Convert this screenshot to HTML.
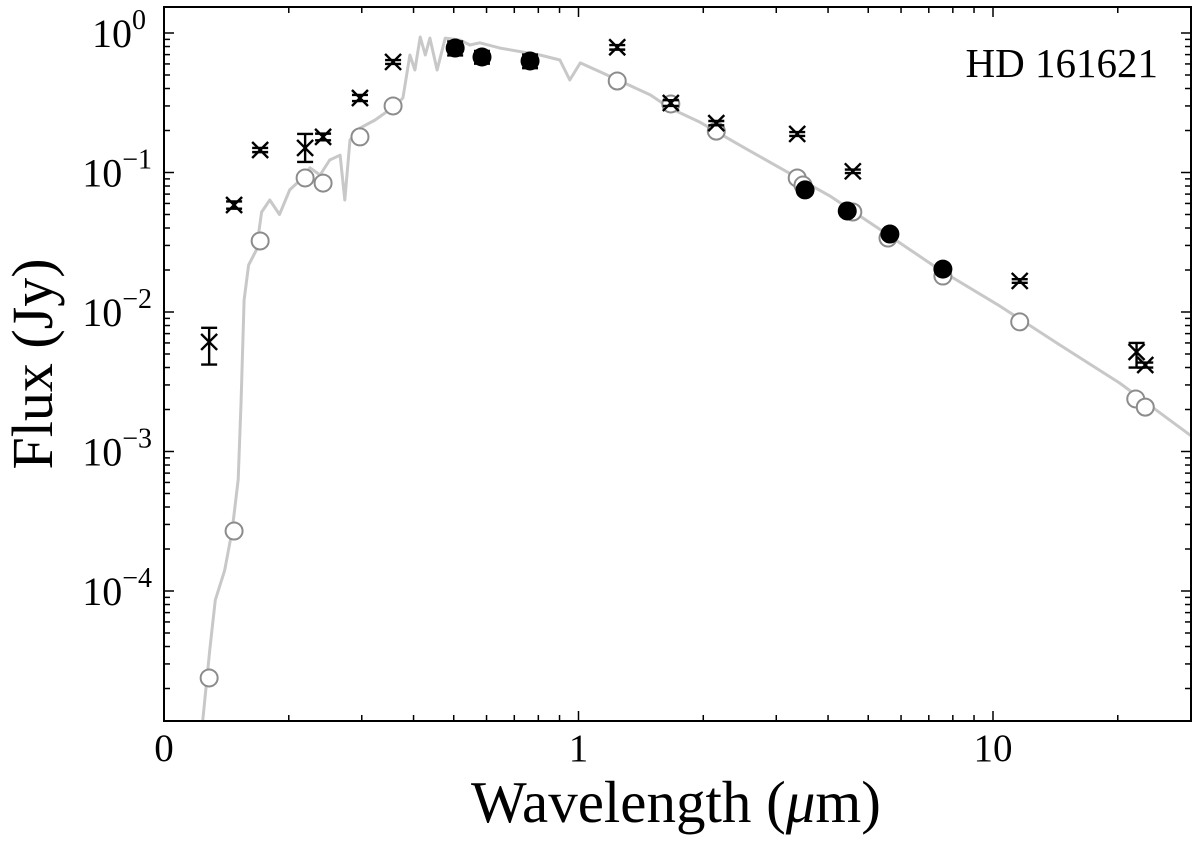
<!DOCTYPE html>
<html><head><meta charset="utf-8"><style>
body{margin:0;background:#fff;}
svg text{font-family:"Liberation Serif","DejaVu Serif",serif;fill:#000;}
</style></head><body>
<svg id="chart" width="1200" height="845" viewBox="0 0 1200 845" xmlns="http://www.w3.org/2000/svg">
<g id="spec"></g>
<g id="open"></g>
<g id="cross"></g>
<g id="filled"></g>
<g id="axes"></g>
<text x="1158" y="77" font-size="41" text-anchor="end">HD 161621</text>
<text x="676" y="822" font-size="59" text-anchor="middle">Wavelength (<tspan font-style="italic">μ</tspan>m)</text>
<text transform="translate(52,364) rotate(-90)" font-size="58" text-anchor="middle">Flux (Jy)</text>
</svg>
<script>
const specLam=[0.124,0.129,0.133,0.140,0.146,0.151,0.1535,0.156,0.160,0.167,0.172,0.180,0.190,0.201,0.213,0.225,0.238,0.251,0.266,0.273,0.281,0.297,0.323,0.361,0.377,0.392,0.403,0.415,0.427,0.438,0.456,0.477,0.518,0.547,0.578,0.647,0.807,0.902,0.953,1.01,1.13,1.49,1.66,1.96,2.45,3.06,4.04,5.34,7.45,10.4,14.5,20.2,30.1];
const specFlux=[1.17e-5,3.8e-5,8.6e-5,1.4e-4,2.7e-4,6.3e-4,2.3e-3,0.0122,0.0217,0.0278,0.052,0.0635,0.050,0.075,0.088,0.108,0.096,0.123,0.133,0.0635,0.171,0.208,0.238,0.30,0.342,0.695,0.543,0.936,0.695,0.92,0.543,0.92,0.89,0.82,0.85,0.78,0.695,0.64,0.46,0.61,0.525,0.36,0.29,0.23,0.157,0.108,0.068,0.039,0.020,0.0110,0.0058,0.0031,0.00129];
const openLam=[0.1285,0.1476,0.1706,0.219,0.242,0.297,0.357,1.24,1.67,2.15,3.37,3.48,4.59,5.58,7.57,11.6,22.1,23.3];
const openFlux=[2.38e-5,2.69e-4,0.0323,0.0914,0.084,0.18,0.30,0.453,0.31,0.198,0.0914,0.0813,0.0521,0.0339,0.0181,0.0085,0.00238,0.00208];
const crossLam=[0.1285,0.1476,0.1706,0.219,0.242,0.297,0.357,1.24,1.67,2.15,3.37,4.59,11.6,22.2,23.3];
const crossFlux=[0.0061,0.0585,0.145,0.150,0.180,0.342,0.62,0.79,0.315,0.226,0.189,0.102,0.0167,0.00517,0.00417];
const crossErrLo=[0.0042,0.055,0.140,0.119,0.170,0.325,0.60,0.76,0.300,0.218,0.183,0.099,0.0162,0.0040,0.0040];
const crossErrHi=[0.0077,0.062,0.150,0.189,0.190,0.360,0.64,0.82,0.330,0.234,0.195,0.105,0.0172,0.0060,0.00434];
const fillLam=[0.504,0.585,0.764,3.52,4.45,5.64,7.57];
const fillFlux=[0.78,0.673,0.63,0.075,0.053,0.0362,0.0203];
const fillErr=[0.09,0.07,0.07,0.004,0.003,0.002,0.001];
const xTickVals=[0.1,1,10];
const xTickLabels=["0","1","10"];
const yTickExp=[0,-1,-2,-3,-4];

const L=164,R=1191,T=7,B=721;
const X=v=>L+(Math.log10(v)+1)*414.5;
const Y=v=>33-Math.log10(v)*139.5;
const NS="http://www.w3.org/2000/svg";
function mk(p,tag,at){const e=document.createElementNS(NS,tag);for(const k in at)e.setAttribute(k,at[k]);p.appendChild(e);return e;}

const spec=document.getElementById('spec');
let d=specLam.map((l,i)=>(i?'L':'M')+X(l).toFixed(1)+','+Y(specFlux[i]).toFixed(1)).join('');
const sp=mk(spec,'path',{d:d,fill:'none',stroke:'#c8c8c8','stroke-width':3,'stroke-linejoin':'round'});



const og=document.getElementById('open');
openLam.forEach((l,i)=>{const c=mk(og,'circle',{cx:X(l),cy:Y(openFlux[i]),r:8.5,fill:'#fff',stroke:'#8c8c8c','stroke-width':2});

});

const cg=document.getElementById('cross');
crossLam.forEach((l,i)=>{const x=X(l),y=Y(crossFlux[i]),y1=Y(crossErrHi[i]),y2=Y(crossErrLo[i]);
const g=mk(cg,'g',{stroke:'#000','stroke-width':2.4});


mk(g,'line',{x1:x,y1:y1,x2:x,y2:y2});
mk(g,'line',{x1:x-8,y1:y1,x2:x+8,y2:y1});
mk(g,'line',{x1:x-8,y1:y2,x2:x+8,y2:y2});
mk(g,'line',{x1:x-8,y1:y-8,x2:x+8,y2:y+8});
mk(g,'line',{x1:x-8,y1:y+8,x2:x+8,y2:y-8});});

const fg=document.getElementById('filled');
fillLam.forEach((l,i)=>{const x=X(l),y=Y(fillFlux[i]),y1=Y(fillFlux[i]+fillErr[i]),y2=Y(fillFlux[i]-fillErr[i]);
const g=mk(fg,'g',{stroke:'#000','stroke-width':2.4});


mk(g,'line',{x1:x,y1:y1,x2:x,y2:y2});
mk(g,'line',{x1:x-8,y1:y1,x2:x+8,y2:y1});
mk(g,'line',{x1:x-8,y1:y2,x2:x+8,y2:y2});
mk(g,'circle',{cx:x,cy:y,r:9.5,fill:'#000',stroke:'none'});});

const ax=document.getElementById('axes');
const fr=mk(ax,'rect',{x:L,y:T,width:R-L,height:B-T,fill:'none',stroke:'#000','stroke-width':2});


for(let e=-1;e<=1;e++)for(let m=1;m<=9;m++){const v=m*Math.pow(10,e),x=X(v);if(x<L||x>R)continue;const len=m==1?10:6;
mk(ax,'line',{x1:x,y1:B,x2:x,y2:B-len,stroke:'#000','stroke-width':1.5});
mk(ax,'line',{x1:x,y1:T,x2:x,y2:T+len,stroke:'#000','stroke-width':1.5});}
xTickVals.forEach((v,i)=>{const t=mk(ax,'text',{x:X(v),y:761,'font-size':39,'text-anchor':'middle'});t.textContent=xTickLabels[i];

});
for(let e=-5;e<=0;e++)for(let m=1;m<=9;m++){const v=m*Math.pow(10,e),y=Y(v);if(y<T||y>B)continue;const len=m==1?10:6;
mk(ax,'line',{x1:L,y1:y,x2:L+len,y2:y,stroke:'#000','stroke-width':1.5});
mk(ax,'line',{x1:R,y1:y,x2:R-len,y2:y,stroke:'#000','stroke-width':1.5});}
yTickExp.forEach(e=>{const y=Y(Math.pow(10,e));const t=mk(ax,'text',{x:e<0?152:146,y:y+14,'font-size':40,'text-anchor':'end'});


t.textContent='10';const s=mk(t,'tspan',{dy:-18,'font-size':28});s.textContent=e<0?'−'+(-e):'0';});
</script>
</body></html>
